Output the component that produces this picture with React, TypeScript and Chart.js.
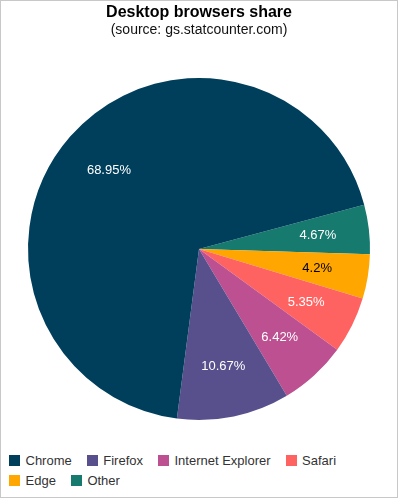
import { useEffect, useRef } from "react";
import { Chart, registerables } from "chart.js";

Chart.register(...registerables);

const categories = ["Chrome", "Firefox", "Internet Explorer", "Safari", "Edge", "Other"];
const shares = [68.95, 10.67, 6.42, 5.35, 4.2, 4.67];
const sliceColors = ["#003f5c", "#58508d", "#bc5090", "#ff6361", "#ffa600", "#167a6e"];
const valueLabelColors = ["#ffffff", "#ffffff", "#ffffff", "#ffffff", "#000000", "#ffffff"];
const titleText = "Desktop browsers share";
const subtitleText = "(source: gs.statcounter.com)";

const FONT = 'Arial, "Liberation Sans", Helvetica, sans-serif';

// slices are drawn in reverse order so they run counter-clockwise like the reference
const drawOrder = categories.map((_, i) => categories.length - 1 - i);

const sliceLabels = {
  id: "sliceLabels",
  afterDatasetsDraw(chart: any) {
    const ctx = chart.ctx;
    const meta = chart.getDatasetMeta(0);
    const ds = chart.data.datasets[0];
    ctx.save();
    ctx.font = `13px ${FONT}`;
    ctx.textAlign = "center";
    ctx.textBaseline = "middle";
    meta.data.forEach((arc: any, i: number) => {
      const { x, y, startAngle, endAngle, outerRadius } = arc.getProps(
        ["x", "y", "startAngle", "endAngle", "outerRadius"],
        true
      );
      const mid = (startAngle + endAngle) / 2;
      const r = outerRadius * 0.7;
      ctx.fillStyle = ds.valueColors[i];
      ctx.fillText(`${ds.data[i]}%`, x + Math.cos(mid) * r, y + Math.sin(mid) * r);
    });
    ctx.restore();
  },
};

export default function App() {
  const canvasRef = useRef<HTMLCanvasElement | null>(null);

  useEffect(() => {
    document.body.style.margin = "0";
    const canvas = canvasRef.current;
    if (!canvas) return;
    const chart = new Chart(canvas, {
      type: "pie",
      data: {
        labels: drawOrder.map((i) => categories[i]),
        datasets: [
          {
            data: drawOrder.map((i) => shares[i]),
            backgroundColor: drawOrder.map((i) => sliceColors[i]),
            borderWidth: 0,
            valueColors: drawOrder.map((i) => valueLabelColors[i]),
          } as any,
        ],
      },
      options: {
        responsive: false,
        animation: false,
        rotation: 75,
        layout: { padding: { top: 0, bottom: 11, left: 0, right: 0 } },
        plugins: {
          legend: { display: false },
          tooltip: { enabled: false },
          title: {
            display: true,
            text: titleText,
            color: "#000000",
            font: { family: FONT, size: 16, weight: "bold" },
            padding: { top: 2, bottom: 0 },
          },
          subtitle: {
            display: true,
            text: subtitleText,
            color: "#111111",
            font: { family: FONT, size: 14, weight: "normal" },
            padding: { top: 0, bottom: 39 },
          },
        },
      },
      plugins: [sliceLabels],
    });
    return () => chart.destroy();
  }, []);

  return (
    <div
      style={{
        position: "relative",
        width: 398,
        height: 498,
        boxSizing: "border-box",
        border: "1px solid #c8c8c8",
        background: "#ffffff",
        fontFamily: FONT,
        overflow: "hidden",
      }}
    >
      <canvas
        ref={canvasRef}
        width={396}
        height={430}
        style={{ position: "absolute", left: 0, top: 0, display: "block" }}
      />
      <div
        style={{
          position: "absolute",
          left: 8,
          top: 449.5,
          width: 350,
          display: "flex",
          flexWrap: "wrap",
          columnGap: 15,
          fontSize: 13,
          lineHeight: "20px",
          color: "#333333",
        }}
      >
        {categories.map((c, i) => (
          <div key={c} style={{ display: "flex", alignItems: "center", whiteSpace: "nowrap" }}>
            <span
              style={{
                display: "inline-block",
                width: 11,
                height: 11,
                background: sliceColors[i],
                marginRight: 5.5,
              }}
            />
            <span>{c}</span>
          </div>
        ))}
      </div>
    </div>
  );
}
